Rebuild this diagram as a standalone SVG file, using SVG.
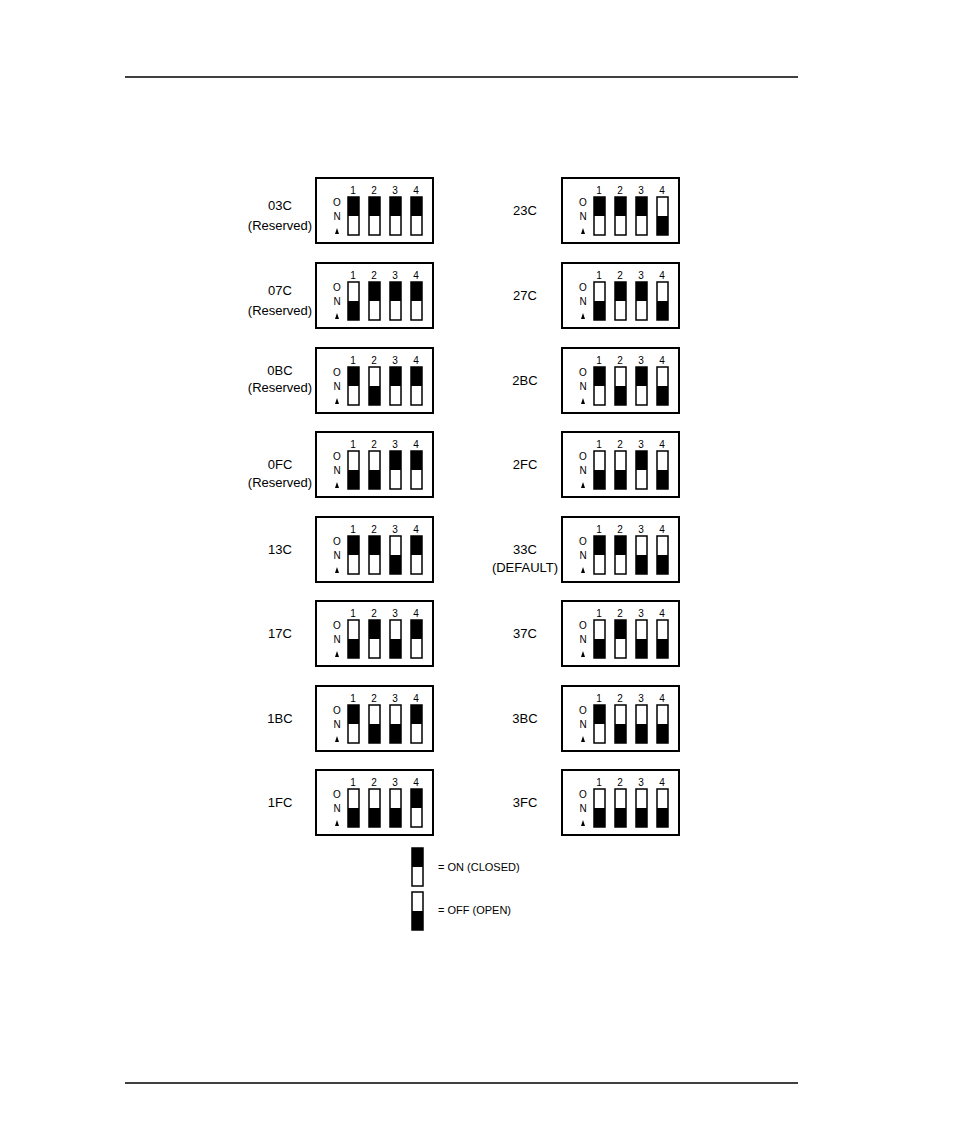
<svg xmlns="http://www.w3.org/2000/svg" width="954" height="1145" viewBox="0 0 954 1145">
<style>
text{font-family:"Liberation Sans",Arial,sans-serif;fill:#000}
.lb{font-size:13px;text-anchor:middle}
.n{font-size:10px;text-anchor:middle}
.box{fill:#fff;stroke:#000;stroke-width:2}
.sw{fill:#fff;stroke:#000;stroke-width:1.5}
.lg{font-size:11px}
</style>
<defs>
<g id="on"><rect class="sw" x="0" y="0" width="11" height="38"/><rect x="0" y="0" width="11" height="19"/></g>
<g id="off"><rect class="sw" x="0" y="0" width="11" height="38"/><rect x="0" y="19" width="11" height="19"/></g>
<g id="frame"><rect class="box" x="0" y="0" width="117" height="65"/>
<text class="n" x="37" y="16">1</text><text class="n" x="58" y="16">2</text><text class="n" x="79" y="16">3</text><text class="n" x="100" y="16">4</text>
<text class="n" x="21" y="28">O</text><text class="n" x="21" y="42">N</text><polygon points="19,56 21,50 23,56"/></g>
</defs>
<line x1="125" y1="77" x2="798" y2="77" stroke="#000" stroke-width="1.5"/>
<line x1="125" y1="1083" x2="798" y2="1083" stroke="#000" stroke-width="1.5"/>
<g id="s03C" transform="translate(316,178)"><use href="#frame"/><use href="#on" x="32" y="19"/><use href="#on" x="53" y="19"/><use href="#on" x="74" y="19"/><use href="#on" x="95" y="19"/><text class="lb" x="-36" y="32">03C</text><text class="lb" x="-36" y="52">(Reserved)</text></g>
<g id="s07C" transform="translate(316,263)"><use href="#frame"/><use href="#off" x="32" y="19"/><use href="#on" x="53" y="19"/><use href="#on" x="74" y="19"/><use href="#on" x="95" y="19"/><text class="lb" x="-36" y="32">07C</text><text class="lb" x="-36" y="52">(Reserved)</text></g>
<g id="s0BC" transform="translate(316,348)"><use href="#frame"/><use href="#on" x="32" y="19"/><use href="#off" x="53" y="19"/><use href="#on" x="74" y="19"/><use href="#on" x="95" y="19"/><text class="lb" x="-36" y="27">0BC</text><text class="lb" x="-36" y="44">(Reserved)</text></g>
<g id="s0FC" transform="translate(316,432)"><use href="#frame"/><use href="#off" x="32" y="19"/><use href="#off" x="53" y="19"/><use href="#on" x="74" y="19"/><use href="#on" x="95" y="19"/><text class="lb" x="-36" y="37">0FC</text><text class="lb" x="-36" y="55">(Reserved)</text></g>
<g id="s13C" transform="translate(316,517)"><use href="#frame"/><use href="#on" x="32" y="19"/><use href="#on" x="53" y="19"/><use href="#off" x="74" y="19"/><use href="#on" x="95" y="19"/><text class="lb" x="-36" y="37">13C</text></g>
<g id="s17C" transform="translate(316,601)"><use href="#frame"/><use href="#off" x="32" y="19"/><use href="#on" x="53" y="19"/><use href="#off" x="74" y="19"/><use href="#on" x="95" y="19"/><text class="lb" x="-36" y="37">17C</text></g>
<g id="s1BC" transform="translate(316,686)"><use href="#frame"/><use href="#on" x="32" y="19"/><use href="#off" x="53" y="19"/><use href="#off" x="74" y="19"/><use href="#on" x="95" y="19"/><text class="lb" x="-36" y="37">1BC</text></g>
<g id="s1FC" transform="translate(316,770)"><use href="#frame"/><use href="#off" x="32" y="19"/><use href="#off" x="53" y="19"/><use href="#off" x="74" y="19"/><use href="#on" x="95" y="19"/><text class="lb" x="-36" y="37">1FC</text></g>
<g id="s23C" transform="translate(562,178)"><use href="#frame"/><use href="#on" x="32" y="19"/><use href="#on" x="53" y="19"/><use href="#on" x="74" y="19"/><use href="#off" x="95" y="19"/><text class="lb" x="-37" y="37">23C</text></g>
<g id="s27C" transform="translate(562,263)"><use href="#frame"/><use href="#off" x="32" y="19"/><use href="#on" x="53" y="19"/><use href="#on" x="74" y="19"/><use href="#off" x="95" y="19"/><text class="lb" x="-37" y="37">27C</text></g>
<g id="s2BC" transform="translate(562,348)"><use href="#frame"/><use href="#on" x="32" y="19"/><use href="#off" x="53" y="19"/><use href="#on" x="74" y="19"/><use href="#off" x="95" y="19"/><text class="lb" x="-37" y="37">2BC</text></g>
<g id="s2FC" transform="translate(562,432)"><use href="#frame"/><use href="#off" x="32" y="19"/><use href="#off" x="53" y="19"/><use href="#on" x="74" y="19"/><use href="#off" x="95" y="19"/><text class="lb" x="-37" y="37">2FC</text></g>
<g id="s33C" transform="translate(562,517)"><use href="#frame"/><use href="#on" x="32" y="19"/><use href="#on" x="53" y="19"/><use href="#off" x="74" y="19"/><use href="#off" x="95" y="19"/><text class="lb" x="-37" y="37">33C</text><text class="lb" x="-37" y="55">(DEFAULT)</text></g>
<g id="s37C" transform="translate(562,601)"><use href="#frame"/><use href="#off" x="32" y="19"/><use href="#on" x="53" y="19"/><use href="#off" x="74" y="19"/><use href="#off" x="95" y="19"/><text class="lb" x="-37" y="37">37C</text></g>
<g id="s3BC" transform="translate(562,686)"><use href="#frame"/><use href="#on" x="32" y="19"/><use href="#off" x="53" y="19"/><use href="#off" x="74" y="19"/><use href="#off" x="95" y="19"/><text class="lb" x="-37" y="37">3BC</text></g>
<g id="s3FC" transform="translate(562,770)"><use href="#frame"/><use href="#off" x="32" y="19"/><use href="#off" x="53" y="19"/><use href="#off" x="74" y="19"/><use href="#off" x="95" y="19"/><text class="lb" x="-37" y="37">3FC</text></g>
<g id="legend">
<use href="#on" transform="translate(412,848)"/><text class="lg" x="438" y="871">= ON (CLOSED)</text>
<use href="#off" transform="translate(412,892)"/><text class="lg" x="438" y="914">= OFF (OPEN)</text>
</g>
</svg>
